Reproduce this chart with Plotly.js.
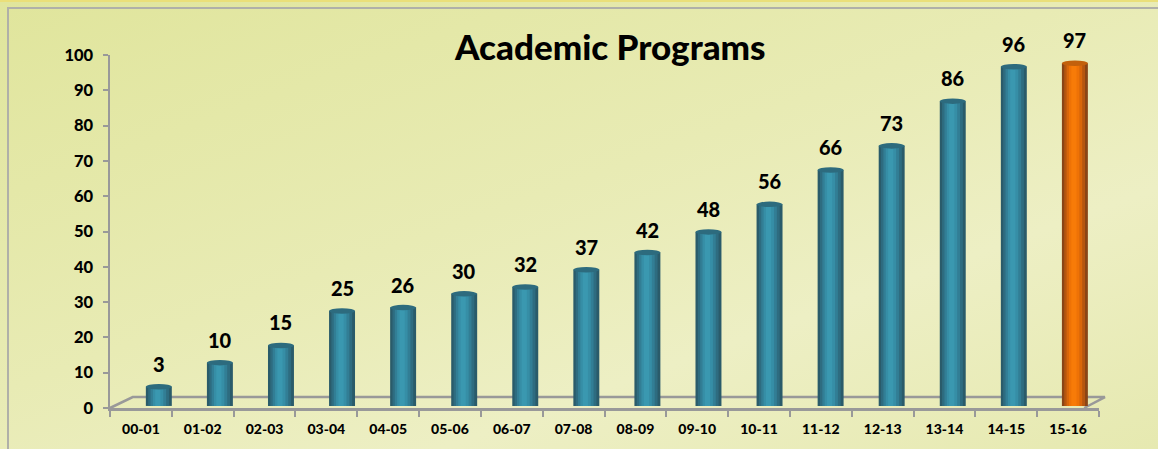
<!DOCTYPE html>
<html>
<head>
<meta charset="utf-8">
<script src="https://cdn.plot.ly/plotly-3.0.1.min.js"></script>
<style>
  html, body { margin: 0; padding: 0; width: 1158px; height: 449px; overflow: hidden; }
  body { background: linear-gradient(160deg, #e0e59c 0%, #e8ebb4 45%, #edefc4 70%, #e6e9b0 100%); }
  #topline { position: absolute; left: 0; top: 0; width: 1158px; height: 2px; background: #eadf7a; }
  #frame { position: absolute; left: 7px; top: 7px; width: 1160px; height: 460px; border-left: 2px solid #b0b0a8; border-top: 2px solid #b0b0a8; box-sizing: border-box; }
  #chart { position: absolute; left: 0; top: 0; width: 1158px; height: 449px; }
</style>
</head>
<body>
<div id="topline"></div>
<div id="frame"></div>
<div id="chart"></div>
<script>
const categories = ["00-01","01-02","02-03","03-04","04-05","05-06","06-07","07-08","08-09","09-10","10-11","11-12","12-13","13-14","14-15","15-16"];
const programs = [3, 10, 15, 25, 26, 30, 32, 37, 42, 48, 56, 66, 73, 86, 96, 97];
const yTicks = [0, 10, 20, 30, 40, 50, 60, 70, 80, 90, 100];

const n = categories.length;
const baseWidth = 0.42;
// the bars stand on the back wall of a 3D floor: their own (hidden) value axis
const y2Range = [-3.18, 99.41];
// bars sit slightly behind/right of labels (3D perspective look)
const shiftOf = i => 0.29 - 0.18 * i / (n - 1);
const tealRamp = ["#2a5b6a", "#2e6c80", "#327e95", "#368ea6", "#3a98b0"];
const orangeRamp = ["#8a4516", "#b5560f", "#d8660a", "#ee7206", "#f77b08"];
const fracs = [1.0, 0.8, 0.6, 0.4, 0.2];

const traces = fracs.map((f, k) => {
  const w = baseWidth * f;
  return {
    type: "bar",
    x: categories,
    y: programs.map(v => v - y2Range[0] - 0.6),
    base: y2Range[0] + 0.6,
    yaxis: "y2",
    width: categories.map(() => w),
    offset: categories.map((c, i) => -w / 2 + shiftOf(i) - 0.02 * (1 - f)),
    marker: { color: categories.map((c, i) => i === n - 1 ? orangeRamp[k] : tealRamp[k]), line: { width: 0 } },
    hoverinfo: "skip",
    showlegend: false
  };
});
// empty trace so the visible value axis (y) is drawn
traces.unshift({ type: "scatter", x: [], y: [], xaxis: "x", yaxis: "y", mode: "markers", showlegend: false, hoverinfo: "skip" });

const shapes = [];
// 3D floor outline
shapes.push({ type: "path", xref: "paper", yref: "paper",
  path: "M 0 0 L 0.023 0.031 L 1.006 0.031 L 0.985 0", line: { color: "#999999", width: 2.5 }, layer: "below" });
// cylinder top ellipses
programs.forEach((v, i) => {
  const cx = i + shiftOf(i);
  shapes.push({ type: "circle", xref: "x", yref: "y2",
    x0: cx - baseWidth / 2, x1: cx + baseWidth / 2, y0: v - 0.8, y1: v + 0.8,
    fillcolor: i === n - 1 ? "#c2600c" : "#2d6b7e", line: { width: 0 }, layer: "above" });
});

const FONT = "Lato, 'Open Sans', sans-serif";
const annotations = programs.map((v, i) => ({
  x: i + shiftOf(i), y: v, xref: "x", yref: "y2", text: String(v), showarrow: false,
  yanchor: "bottom", yshift: 9,
  font: { family: FONT, size: 20, color: "#000", weight: 900 }
}));

const layout = {
  width: 1158, height: 449,
  margin: { l: 110, r: 59, t: 55, b: 41, pad: 0 },
  paper_bgcolor: "rgba(0,0,0,0)",
  plot_bgcolor: "rgba(0,0,0,0)",
  barmode: "overlay",
  title: { text: "Academic Programs", x: 0.527, xref: "container", y: 0.893, yref: "container", yanchor: "middle", xanchor: "center",
    font: { family: FONT, size: 35, color: "#000", weight: 900 } },
  xaxis: {
    type: "category", range: [-0.5, 15.5], showline: true, linecolor: "#999999", linewidth: 2.5,
    ticks: "outside", tickson: "boundaries", ticklen: 6, tickcolor: "#999999", tickwidth: 2,
    showgrid: false, zeroline: false,
    tickfont: { family: FONT, size: 14, color: "#000", weight: 900 },
    ticklabelstandoff: 7
  },
  yaxis: {
    range: [0, 100], autorange: false, tickvals: yTicks, showline: true, linecolor: "#999999", linewidth: 2.5,
    ticks: "outside", ticklen: 5, tickcolor: "#999999", tickwidth: 2,
    showgrid: false, zeroline: false, anchor: "x",
    tickfont: { family: FONT, size: 16.5, color: "#000", weight: 900 },
    ticklabelstandoff: 6
  },
  yaxis2: {
    overlaying: "y", anchor: "x", range: y2Range, autorange: false, visible: false, showgrid: false, zeroline: false
  },
  shapes: shapes,
  annotations: annotations
};

Plotly.newPlot("chart", traces, layout, { displayModeBar: false, staticPlot: true });
</script>
</body>
</html>
